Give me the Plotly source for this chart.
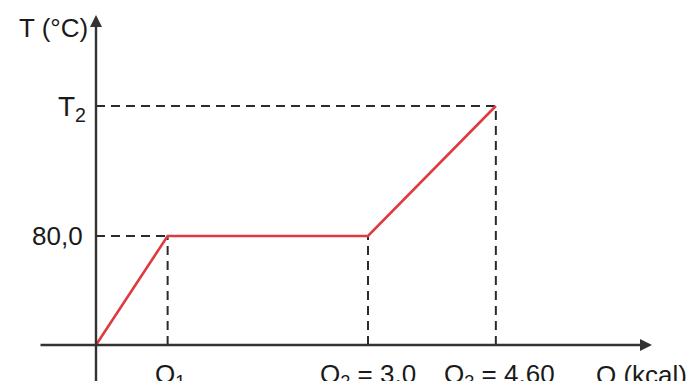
import plotly.graph_objects as go

# Schematic data (positions)
q_points = [0.0, 0.79, 3.0, 4.41]      # Q positions of the curve's corners (schematic scale)
t_points = [0.0, 80.0, 80.0, 175.4]    # T values at those corners
q_labels = ["Q<sub>1</sub>", "Q<sub>2</sub> = 3,0", "Q<sub>3</sub> = 4,60"]
t_labels = ["80,0", "T<sub>2</sub>"]
x_title = "Q (kcal)"
y_title = "T (°C)"

W, H = 690, 381
x0_px, y0_px = 96, 345
px_per_q = (368 - 96) / 3.0
px_per_t = (345 - 236) / 80.0

def xr(px):
    return (px - x0_px) / px_per_q

def yr(py):
    return (y0_px - py) / px_per_t

fig = go.Figure()

axis_col = "#333333"
dash_col = "#2b2b2b"
red = "#df3a3f"
family = "Liberation Sans, Arial, Helvetica, sans-serif"
txt_col = "#1a1a1a"
font = dict(family=family, size=26, color=txt_col)

shapes = []
q1, q2, q3 = q_points[1], q_points[2], q_points[3]
t80, t2 = t_points[1], t_points[3]
dash = dict(color=dash_col, width=2, dash="9px,6px")
for (xa, ya, xb, yb) in [
    (0, t80, q1, t80),
    (q1, 0, q1, t80),
    (q2, 0, q2, t80),
    (0, t2, q3, t2),
    (q3, 0, q3, t2),
]:
    shapes.append(dict(type="line", xref="x", yref="y", x0=xa, y0=ya, x1=xb, y1=yb, line=dash, layer="below"))

fig.add_trace(go.Scatter(x=q_points, y=t_points, mode="lines",
                         line=dict(color=red, width=2.6), hoverinfo="skip", showlegend=False))

annotations = []
# axes with arrows
annotations.append(dict(x=xr(652), y=0, ax=xr(39), ay=0, xref="x", yref="y", axref="x", ayref="y",
                        showarrow=True, arrowhead=2, arrowsize=1.0, arrowwidth=2.4, arrowcolor=axis_col, text=""))
annotations.append(dict(x=0, y=yr(15), ax=0, ay=yr(400), xref="x", yref="y", axref="x", ayref="y",
                        showarrow=True, arrowhead=2, arrowsize=1.0, arrowwidth=2.4, arrowcolor=axis_col, text=""))

# Q labels
for q, lab in zip([q1 + xr(170) - xr(168), q2, q3 + xr(500) - xr(496)], q_labels):
    annotations.append(dict(x=q, y=yr(375), xref="x", yref="y", text=lab, showarrow=False,
                            font=font, xanchor="center", yanchor="middle"))
annotations.append(dict(x=xr(594), y=yr(375), xref="x", yref="y", text=x_title, showarrow=False,
                        font=font, xanchor="left", yanchor="middle"))
# T labels
annotations.append(dict(x=xr(85), y=t80, xref="x", yref="y", text=t_labels[0], showarrow=False,
                        font=font, xanchor="right", yanchor="middle"))
annotations.append(dict(x=xr(88), y=t2 + yr(108) - yr(106), xref="x", yref="y", text=t_labels[1], showarrow=False,
                        font=dict(family=family, size=28, color=txt_col), xanchor="right", yanchor="middle"))
annotations.append(dict(x=xr(90), y=yr(28), xref="x", yref="y", text=y_title, showarrow=False,
                        font=font, xanchor="right", yanchor="middle"))

fig.update_layout(
    width=W, height=H,
    margin=dict(l=0, r=0, t=0, b=0),
    paper_bgcolor="white", plot_bgcolor="white",
    xaxis=dict(range=[xr(0), xr(W)], visible=False, fixedrange=True),
    yaxis=dict(range=[yr(H), yr(0)], visible=False, fixedrange=True),
    shapes=shapes,
    annotations=annotations,
    showlegend=False,
)

fig.write_html("out.html", config={"displayModeBar": False},
               post_script="document.body.style.margin='0';document.body.style.overflow='hidden';")
